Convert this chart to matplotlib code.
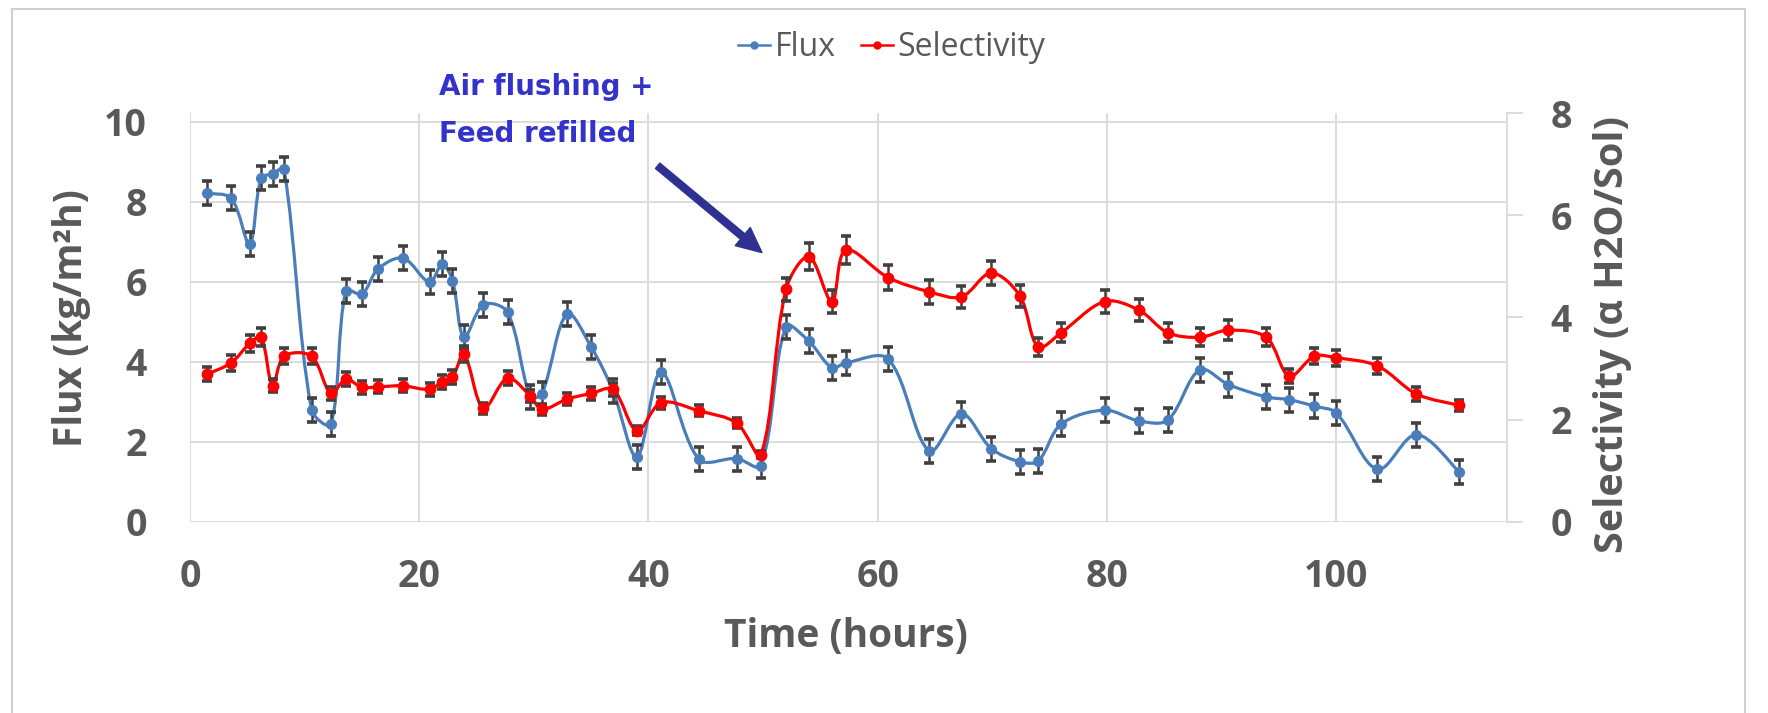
import numpy as np
import matplotlib.pyplot as plt
from matplotlib.path import Path
from matplotlib.patches import PathPatch, Rectangle
from matplotlib.lines import Line2D

plt.rcParams['font.family'] = ['Open Sans', 'DejaVu Sans']

# values
time_h = [1.5, 3.6, 5.2, 6.2, 7.2, 8.2, 10.6, 12.3, 13.6, 15.0, 16.4, 18.6, 20.9,
          22.0, 22.9, 23.9, 25.6, 27.7, 29.7, 30.7, 32.9, 35.0, 36.9, 39.0, 41.1,
          44.4, 47.7, 49.8, 52.0, 54.0, 56.0, 57.2, 60.9, 64.5, 67.3, 69.9, 72.4,
          74.0, 76.0, 79.8, 82.8, 85.3, 88.1, 90.6, 93.9, 95.9, 98.1, 100.0,
          103.6, 107.0, 110.7]
flux = [8.21, 8.09, 6.94, 8.59, 8.70, 8.82, 2.80, 2.44, 5.78, 5.69, 6.32, 6.59, 5.99,
        6.44, 6.03, 4.61, 5.43, 5.24, 3.12, 3.20, 5.20, 4.37, 3.27, 1.62, 3.74,
        1.56, 1.58, 1.40, 4.88, 4.51, 3.85, 3.97, 4.07, 1.77, 2.70, 1.83, 1.50,
        1.52, 2.44, 2.79, 2.52, 2.54, 3.80, 3.43, 3.12, 3.05, 2.89, 2.72,
        1.31, 2.18, 1.25]
selectivity = [2.89, 3.11, 3.49, 3.62, 2.66, 3.24, 3.24, 2.51, 2.79, 2.63, 2.64, 2.66, 2.59,
               2.74, 2.83, 3.28, 2.22, 2.81, 2.46, 2.20, 2.40, 2.51, 2.59, 1.78, 2.33,
               2.17, 1.93, 1.31, 4.55, 5.19, 4.31, 5.32, 4.78, 4.50, 4.40, 4.87, 4.42,
               3.42, 3.70, 4.31, 4.14, 3.70, 3.61, 3.75, 3.61, 2.85, 3.24, 3.21,
               3.05, 2.50, 2.28]
FLUX_ERR = 0.3
sel_err = [0.14, 0.16, 0.17, 0.18, 0.13, 0.16, 0.16, 0.13, 0.14, 0.13, 0.13, 0.13, 0.13,
           0.14, 0.14, 0.16, 0.11, 0.14, 0.12, 0.11, 0.12, 0.13, 0.13, 0.09, 0.12,
           0.11, 0.10, 0.07, 0.23, 0.26, 0.22, 0.27, 0.24, 0.23, 0.22, 0.24, 0.22,
           0.17, 0.19, 0.22, 0.21, 0.19, 0.18, 0.19, 0.18, 0.14, 0.16, 0.16,
           0.15, 0.13, 0.11]

BLUE = '#4A7EBB'
RED = '#FF0000'
GREY = '#595959'
GRID = '#D9D9D9'
ERR = '#404040'


def smooth_path(axis, x, y):
    # excel-like smoothed line: bezier segments, tangents weighted by
    # the on-screen segment lengths so short steps don't overshoot
    pts = np.column_stack([x, y]).astype(float)
    n = len(pts)
    disp = axis.transData.transform(pts)
    seg = np.hypot(*np.diff(disp, axis=0).T)
    out_c = []
    in_c = []
    for i in range(n):
        if i == 0:
            t = pts[1] - pts[0]
            out_c.append(pts[0] + t / 6)
            in_c.append(pts[0])
        elif i == n - 1:
            t = pts[i] - pts[i - 1]
            out_c.append(pts[i])
            in_c.append(pts[i] - t / 6)
        else:
            t = pts[i + 1] - pts[i - 1]
            tot = seg[i - 1] + seg[i]
            out_c.append(pts[i] + t * seg[i] / tot / 3)
            in_c.append(pts[i] - t * seg[i - 1] / tot / 3)
    verts = [pts[0]]
    codes = [Path.MOVETO]
    for i in range(n - 1):
        verts += [out_c[i], in_c[i + 1], pts[i + 1]]
        codes += [Path.CURVE4] * 3
    return Path(verts, codes)


fig = plt.figure(figsize=(17.68, 7.13), dpi=100)
ax = fig.add_axes([0.10747, 0.2683, 0.74491, 0.57321])
ax2 = ax.twinx()

ax.set_xlim(0, 114.9)
ax.set_ylim(0, 10.22)
ax2.set_ylim(0, 8)
ax.set_xticks(range(0, 101, 20))
ax.set_yticks(range(0, 11, 2))
ax2.set_yticks(range(0, 9, 2))

# flux series
ax.add_patch(PathPatch(smooth_path(ax, time_h, flux), fill=False, edgecolor=BLUE, lw=2.3, zorder=2))
ax.errorbar(time_h, flux, yerr=FLUX_ERR, fmt='none', ecolor=ERR, elinewidth=1.8,
            capsize=3.5, capthick=2.6, zorder=3)
ax.plot(time_h, flux, 'o', color=BLUE, markersize=7, zorder=4)

# selectivity series
ax2.add_patch(PathPatch(smooth_path(ax2, time_h, selectivity), fill=False, edgecolor=RED,
                        lw=2.3, zorder=2))
ax2.errorbar(time_h, selectivity, yerr=sel_err, fmt='none', ecolor=ERR, elinewidth=1.8,
             capsize=3.5, capthick=2.6, zorder=3)
ax2.plot(time_h, selectivity, 'o', color=RED, markersize=7.5, zorder=4)

ax.grid(True, color=GRID, lw=1.3)
ax.set_axisbelow(True)
for s in ax.spines.values():
    s.set_visible(False)
for k in ['left', 'top', 'bottom']:
    ax2.spines[k].set_visible(False)
ax2.spines['right'].set_color(GRID)
ax2.spines['right'].set_linewidth(1.3)

ax.tick_params(axis='both', length=0, labelsize=27, labelcolor=GREY)
ax.tick_params(axis='y', pad=31)
ax.tick_params(axis='x', pad=26)
ax2.tick_params(axis='y', length=11.5, width=1.3, color=GRID, pad=20,
                labelsize=27, labelcolor=GREY)
for lab in ax.get_xticklabels() + ax.get_yticklabels() + ax2.get_yticklabels():
    lab.set_fontweight('bold')

ax.set_xlabel('Time (hours)', fontsize=28, fontweight='bold', color=GREY)
ax.set_ylabel('Flux (kg/m²h)', fontsize=28, fontweight='bold', color=GREY)
ax2.set_ylabel('Selectivity (α H2O/Sol)', fontsize=28.5, fontweight='bold', color=GREY)
ax.xaxis.set_label_coords(0.498, -0.233)
ax.yaxis.set_label_coords(-0.075, 0.498)
ax2.yaxis.set_label_coords(1.0653, 0.457)

# annotation
ax.text(21.7, 1.044, 'Air flushing +', transform=ax.get_xaxis_transform(),
        fontsize=20, fontweight='bold', color='#3333CC', family='DejaVu Sans',
        va='baseline', ha='left')
ax.text(21.7, 0.930, 'Feed refilled', transform=ax.get_xaxis_transform(),
        fontsize=20, fontweight='bold', color='#3333CC', family='DejaVu Sans',
        va='baseline', ha='left')
ax.annotate('', xy=(49.9, 6.73), xytext=(40.8, 8.9),
            arrowprops=dict(arrowstyle='simple,head_width=0.85,head_length=0.9,tail_width=0.25',
                            mutation_scale=20, color='#2E3192', shrinkA=0, shrinkB=0))

handles = [Line2D([], [], color=BLUE, marker='o', markersize=5, lw=1.8),
           Line2D([], [], color=RED, marker='o', markersize=5, lw=1.8)]
fig.legend(handles, ['Flux', 'Selectivity'], loc='center', bbox_to_anchor=(0.5045, 0.9327),
           ncol=2, frameon=False, fontsize=23, handlelength=1.0, handletextpad=0.15,
           columnspacing=0.78, labelcolor=GREY)

# outer chart frame
fig.add_artist(Rectangle((12 / 1768, -0.01), (1745 - 12) / 1768, 0.99738,
                         transform=fig.transFigure, fill=False, edgecolor='#D0D0D0', lw=1.5))

fig.savefig('out.png', dpi=100)
